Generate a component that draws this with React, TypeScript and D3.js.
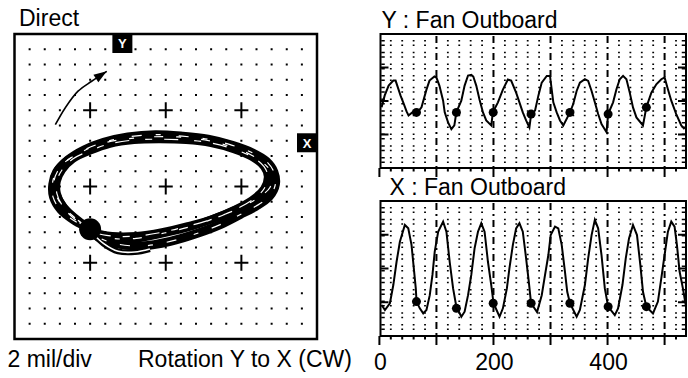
import React from 'react';
import * as d3 from 'd3';

const W = 688;
const H = 378;
const FONT = 'Liberation Sans, Arial, sans-serif';

// ---------- Orbit data (mil, 2 mil/div) ----------
const orbitLoop1X = [-10.0, -11.9, -13.5, -14.5, -14.8, -14.3, -12.9, -10.8, -8.2, -5.0, -1.4, 2.2, 5.6, 8.8, 11.5, 13.3, 14.3, 14.5, 13.7, 11.9, 9.8, 7.2, 4.3, 0.6, -3.1, -6.6, -9.0, -10.0];
const orbitLoop1Y = [-5.6, -4.4, -2.8, -1.1, 0.5, 2.0, 3.5, 4.8, 5.8, 6.5, 6.8, 6.6, 6.2, 5.4, 4.4, 3.3, 1.9, 0.3, -1.3, -2.6, -3.7, -5.0, -6.1, -7.2, -7.8, -7.5, -6.6, -5.6];
const orbitLoop2X = [-10.0, -12.0, -13.6, -14.4, -14.4, -13.7, -12.3, -10.0, -7.4, -4.2, -0.8, 2.7, 6.0, 9.0, 11.4, 13.0, 13.5, 13.0, 11.4, 9.0, 6.1, 2.9, -0.5, -3.9, -7.1, -9.2, -10.0];
const orbitLoop2Y = [-5.6, -4.1, -2.6, -0.9, 0.7, 2.2, 3.6, 4.7, 5.6, 6.1, 6.2, 6.1, 5.7, 4.9, 3.9, 2.6, 1.3, -0.3, -1.8, -3.1, -4.3, -5.2, -6.0, -6.5, -6.5, -6.1, -5.6];
const orbitLoop3X = [-10.0, -12.1, -13.9, -14.9, -15.0, -14.5, -13.2, -11.2, -8.6, -5.5, -2.1, 1.6, 5.2, 8.4, 11.0, 13.0, 14.1, 13.8, 12.2, 9.8, 6.9, 3.5, -0.2, -3.9, -7.1, -9.2, -10.0];
const orbitLoop3Y = [-5.6, -4.5, -3.1, -1.4, 0.3, 1.9, 3.3, 4.5, 5.6, 6.2, 6.5, 6.5, 6.1, 5.3, 4.3, 3.0, 1.6, -0.1, -1.5, -2.8, -4.0, -5.2, -6.1, -6.8, -6.8, -6.2, -5.6];
const orbitTailX = [-9.8, -8.2, -6.3, -4.1, -2.1];
const orbitTailY = [-6.0, -7.5, -8.5, -8.6, -8.2];
const keyphasorOrbitX = [-10.0];
const keyphasorOrbitY = [-5.6];
const rotationArrowX = [-14.6, -13.3, -11.6, -9.8, -7.8];
const rotationArrowY = [8.1, 10.3, 12.5, 13.8, 15.1];
const probeAngleDeg = 16;

// ---------- Time-base data (time units, mil) ----------
const yProbeWave: [number, number][] = [
  [3.9, -1.9], [9.2, 1.6], [16.2, 4.6], [24.4, 6.1], [28.4, 6.1], [31.9, 4.3], [37.1, 1.6], [42.4, -0.7], [47.6, -3.1], [51.1, -4.3],
  [59.8, -3.1], [66.8, -3.4], [73.8, -1.9], [82.5, 3.4], [87.8, 6.1], [96.5, 7.3], [100, 7.0], [105.2, 4.6], [111.7, 0.1], [114.5, -3.4],
  [120.4, -6.4], [126.2, -8.4], [131.4, -7.3], [134.9, -3.4], [143.6, 0.1], [149.4, 4.6], [155.4, 7.6], [161.1, 7.8], [164.6, 7.3], [169.8, 4.6],
  [175.6, 0.4], [181.6, -3.4], [187.3, -5.8], [196.1, -7.3], [199, -3.4], [207.8, -0.4], [216.5, 3.4], [225.2, 6.4], [231, 6.1], [239.7, 2.5],
  [245.5, -0.4], [251.4, -3.4], [257.2, -5.8], [263, -7.9], [266, -4.0], [272.9, -2.8], [278.7, 1.6], [284.6, 5.5], [293.4, 7.5], [299.1, 7.5],
  [302.1, 3.4], [304.9, -0.4], [310.8, -3.4], [316.6, -5.8], [322.4, -7.3], [334.1, -3.4], [339.8, -0.9], [345.8, 3.0], [351.5, 5.5], [360.3, 6.5],
  [366, 6.0], [372, 3.0], [377.7, -0.4], [383.5, -3.9], [389.4, -6.9], [398.2, -9.3], [401, -3.9], [409.7, -0.4], [415.6, 3.5], [421.4, 6.5],
  [427.2, 7.5], [433.1, 6.5], [438.9, 2.5], [444.6, -1.9], [450.6, -4.9], [462.1, -7.3], [468, -1.9], [476.8, 2.5], [485.5, 5.0], [494.2, 6.5],
  [500, 7.0], [505.8, 3.5], [511.7, 0.1], [520.4, -3.9], [529.2, -7.3], [535, -8.4],
];
const xProbeWave: [number, number][] = [
  [3.9, -10.8], [9.7, -12.3], [18.4, -10.3], [24.4, -4.9], [30.1, 2.0], [35.9, 7.9], [44.6, 12.9], [50.6, 11.9], [56.3, 7.0], [60.3, 0.1],
  [63.8, -5.9], [65.1, -9.8], [70.8, -11.8], [76.8, -13.3], [82.5, -12.3], [88.3, -7.9], [93, -1.9], [97, 5.0], [103, 10.9], [111.7, 13.9],
  [117.5, 10.9], [123.2, 2.0], [129.2, -5.9], [134.9, -11.3], [143.7, -14.3], [149.4, -12.8], [155.4, -7.9], [161.1, -1.9], [166.9, 6.0], [172.8, 10.9],
  [178.6, 13.4], [184.4, 10.9], [190.3, 2.0], [196.1, -4.9], [200.1, -10.3], [210.6, -14.3], [216.5, -11.8], [223.5, -5.9], [228, 0.1], [234, 7.0],
  [239.7, 11.9], [245.5, 13.4], [251.4, 10.9], [257.2, 3.0], [261.9, -3.9], [265.9, -10.3], [276.4, -12.9], [284.6, -7.9], [290.4, -1.9], [296.2, 4.0],
  [300.3, 9.9], [307.9, 12.4], [313.6, 11.9], [319.6, 7.0], [325.3, -0.9], [329.3, -6.9], [334.1, -10.3], [345.8, -14.3], [351.5, -12.3], [360.3, -4.9],
  [366, 3.0], [372, 9.9], [377.7, 14.4], [383.5, 11.9], [389.4, 4.0], [395.2, -5.9], [401, -11.3], [412.7, -13.8], [418.4, -11.8], [426.1, -4.9],
  [431.9, 3.0], [437.6, 8.9], [444.6, 12.9], [451.6, 9.9], [457.5, 1.0], [462.1, -6.9], [468, -11.3], [479.6, -13.3], [488.3, -9.8], [494.2, -2.9],
  [500, 4.0], [505.8, 10.9], [511.7, 13.9], [517.5, 12.4], [521.6, 7.0], [526.3, -0.9], [532.1, -5.9], [537, -10.8],
];
const keyphasorTimes = [65, 135, 199.5, 266, 334, 401, 468];
const keyphasorYAmp = [-3.4, -3.4, -3.4, -3.9, -3.4, -3.9, -1.9];
const keyphasorXAmp = [-9.8, -11.8, -10.3, -10.3, -10.3, -11.3, -11.3];
const timeTickLabels = [0, 200, 400];

// ---------- Orbit panel ----------
function OrbitPanel() {
  const L = 14.5, R = 317, T = 34, B = 339;
  const ox = d3.scaleLinear().domain([-20, 20]).range([L, R]);
  const oy = d3.scaleLinear().domain([-20, 20]).range([B, T]);
  const gridVals = d3.range(-18, 19, 2);
  const crossVals = [-10, 0, 10];
  const isCross = (a: number, b: number) => crossVals.includes(a) && crossVals.includes(b);

  const line = d3.line<[number, number]>().x(d => ox(d[0])).y(d => oy(d[1])).curve(d3.curveCatmullRomClosed.alpha(0.5));
  const openLine = d3.line<[number, number]>().x(d => ox(d[0])).y(d => oy(d[1])).curve(d3.curveCatmullRom.alpha(0.5));
  const zip = (xs: number[], ys: number[]) => xs.slice(0, -1).map((x, i) => [x, ys[i]] as [number, number]);
  const zipOpen = (xs: number[], ys: number[]) => xs.map((x, i) => [x, ys[i]] as [number, number]);
  const loops = [zip(orbitLoop1X, orbitLoop1Y), zip(orbitLoop2X, orbitLoop2Y), zip(orbitLoop3X, orbitLoop3Y)];
  const tail = zipOpen(orbitTailX, orbitTailY);

  const arrowPts = zipOpen(rotationArrowX, rotationArrowY);
  const n = arrowPts.length;
  const tip = [ox(arrowPts[n - 1][0]), oy(arrowPts[n - 1][1])];
  const prev = [ox(arrowPts[n - 2][0]), oy(arrowPts[n - 2][1])];
  const ang = Math.atan2(tip[1] - prev[1], tip[0] - prev[0]);
  const hl = 13, hw = 4.5;
  const bx = tip[0] - hl * Math.cos(ang), by = tip[1] - hl * Math.sin(ang);
  const head = [
    [tip[0], tip[1]],
    [bx + hw * Math.sin(ang), by - hw * Math.cos(ang)],
    [bx - hw * Math.sin(ang), by + hw * Math.cos(ang)],
  ];

  const off = 20 * Math.tan((probeAngleDeg * Math.PI) / 180);
  const yMarkX = ox(-off);
  const xMarkY = oy(off);

  return (
    <g>
      {gridVals.map(a =>
        gridVals.map(b =>
          isCross(a, b) ? null : (
            <rect key={`d${a}_${b}`} x={ox(a) - 1} y={oy(b) - 1} width={2} height={2} fill="#000" />
          )
        )
      )}
      {crossVals.map(a =>
        crossVals.map(b => (
          <g key={`c${a}_${b}`}>
            <line x1={ox(a) - 7} x2={ox(a) + 7} y1={oy(b)} y2={oy(b)} stroke="#000" strokeWidth={2} />
            <line x1={ox(a)} x2={ox(a)} y1={oy(b) - 8} y2={oy(b) + 8} stroke="#000" strokeWidth={2} />
          </g>
        ))
      )}
      <rect x={L} y={T} width={R - L} height={B - T} fill="none" stroke="#000" strokeWidth={2.5} />

      {/* orbit traces */}
      {loops.map((pts, i) => (
        <path key={`ob${i}`} d={line(pts) || ''} fill="none" stroke="#000" strokeWidth={i === 0 ? 9 : 8} />
      ))}
      <path d={openLine(tail) || ''} fill="none" stroke="#000" strokeWidth={6} />
      {loops.map((pts, i) => (
        <path key={`ow${i}`} d={line(pts) || ''} fill="none" stroke="#fff" strokeWidth={1.2}
          strokeDasharray={i === 0 ? '10 14 5 18' : i === 1 ? '7 12 14 16' : '5 20 9 13'} />
      ))}
      <path d={openLine(tail) || ''} fill="none" stroke="#fff" strokeWidth={1.6} />
      {keyphasorOrbitX.map((x, i) => (
        <circle key={`kp${i}`} cx={ox(x)} cy={oy(keyphasorOrbitY[i])} r={11} fill="#000" />
      ))}

      {/* rotation arrow */}
      <path d={openLine(arrowPts) || ''} fill="none" stroke="#000" strokeWidth={1.6} />
      <polygon points={head.map(p => p.join(',')).join(' ')} fill="#000" />

      {/* probe markers */}
      <rect x={yMarkX - 10} y={T} width={20} height={19} fill="#000" />
      <text x={yMarkX} y={T + 14} textAnchor="middle" fontFamily={FONT} fontWeight="bold" fontSize={13} fill="#fff">Y</text>
      <rect x={R - 20} y={xMarkY - 9.5} width={20} height={19} fill="#000" />
      <text x={R - 10} y={xMarkY + 5} textAnchor="middle" fontFamily={FONT} fontWeight="bold" fontSize={13} fill="#fff">X</text>
    </g>
  );
}

// ---------- Time panel ----------
function TimePanel({ top, bottom, wave, kpAmp, showLabels }: {
  top: number; bottom: number; wave: [number, number][]; kpAmp: number[]; showLabels: boolean;
}) {
  const L = 380.5, R = 686;
  const tx = d3.scaleLinear().domain([0, 537]).range([379.4, 685.7]);
  const vy = d3.scaleLinear().domain([-20, 20]).range([bottom, top]);
  const minor = d3.range(20, 537, 20).filter(t => t % 100 !== 0);
  const major = d3.range(100, 537, 100);
  const allTicks = d3.range(0, 537, 20);
  const line = d3.line<[number, number]>().x(d => tx(d[0])).y(d => vy(d[1])).curve(d3.curveLinear);
  const dotPattern = '1.5 3 1.5 5.7';
  const clipId = `clip${top}`;

  return (
    <g>
      <defs>
        <clipPath id={clipId}>
          <rect x={L} y={top} width={R - L} height={bottom - top} />
        </clipPath>
      </defs>
      {minor.map(t => (
        <line key={`m${t}`} x1={tx(t)} x2={tx(t)} y1={top + 6} y2={bottom} stroke="#000" strokeWidth={1.8} strokeDasharray={dotPattern} />
      ))}
      {major.map(t => (
        <line key={`M${t}`} x1={tx(t)} x2={tx(t)} y1={top + 2} y2={bottom} stroke="#000" strokeWidth={2} strokeDasharray="7 4 2 4" />
      ))}
      {/* edge combs */}
      <line x1={L + 2.5} x2={L + 2.5} y1={top + 6} y2={bottom} stroke="#000" strokeWidth={3.5} strokeDasharray={dotPattern} />
      <line x1={R - 2.5} x2={R - 2.5} y1={top + 6} y2={bottom} stroke="#000" strokeWidth={3.5} strokeDasharray={dotPattern} />
      {[-10, 0, 10].map(v => (
        <g key={`e${v}`}>
          <line x1={L} x2={L + 8} y1={vy(v)} y2={vy(v)} stroke="#000" strokeWidth={2} />
          <line x1={R - 8} x2={R} y1={vy(v)} y2={vy(v)} stroke="#000" strokeWidth={2} />
        </g>
      ))}
      <rect x={L} y={top} width={R - L} height={bottom - top} fill="none" stroke="#000" strokeWidth={2} />
      {allTicks.map(t => (
        <line key={`t${t}`} x1={tx(t)} x2={tx(t)} y1={bottom} y2={bottom + (t % 100 === 0 ? 9 : 3.5)} stroke="#000" strokeWidth={2} />
      ))}
      <g clipPath={`url(#${clipId})`}>
        <path d={line(wave) || ''} fill="none" stroke="#000" strokeWidth={2} />
        {keyphasorTimes.map((t, i) => (
          <circle key={`k${i}`} cx={tx(t)} cy={vy(kpAmp[i])} r={4.5} fill="#000" />
        ))}
      </g>
      {showLabels && timeTickLabels.map(t => (
        <text key={`l${t}`} x={tx(t) + 1} y={370} textAnchor="middle" fontFamily={FONT} fontSize={23} fill="#000">{t}</text>
      ))}
    </g>
  );
}

export default function App() {
  return (
    <svg width={W} height={H} viewBox={`0 0 ${W} ${H}`} style={{ position: 'absolute', left: 0, top: 0, background: '#fff' }}>
      <rect x={0} y={0} width={W} height={H} fill="#fff" />
      <text x={19} y={26} fontFamily={FONT} fontSize={23} fill="#000">Direct</text>
      <OrbitPanel />
      <text x={7.5} y={367} fontFamily={FONT} fontSize={23} fill="#000">2 mil/div</text>
      <text x={138} y={367} fontFamily={FONT} fontSize={23} fill="#000">Rotation Y to X (CW)</text>

      <text x={381.5} y={28} fontFamily={FONT} fontSize={23} fill="#000">Y : Fan Outboard</text>
      <TimePanel top={34} bottom={168} wave={yProbeWave} kpAmp={keyphasorYAmp} showLabels={false} />
      <text x={389.5} y={195} fontFamily={FONT} fontSize={23} fill="#000">X : Fan Outboard</text>
      <TimePanel top={201} bottom={336} wave={xProbeWave} kpAmp={keyphasorXAmp} showLabels={true} />
    </svg>
  );
}
